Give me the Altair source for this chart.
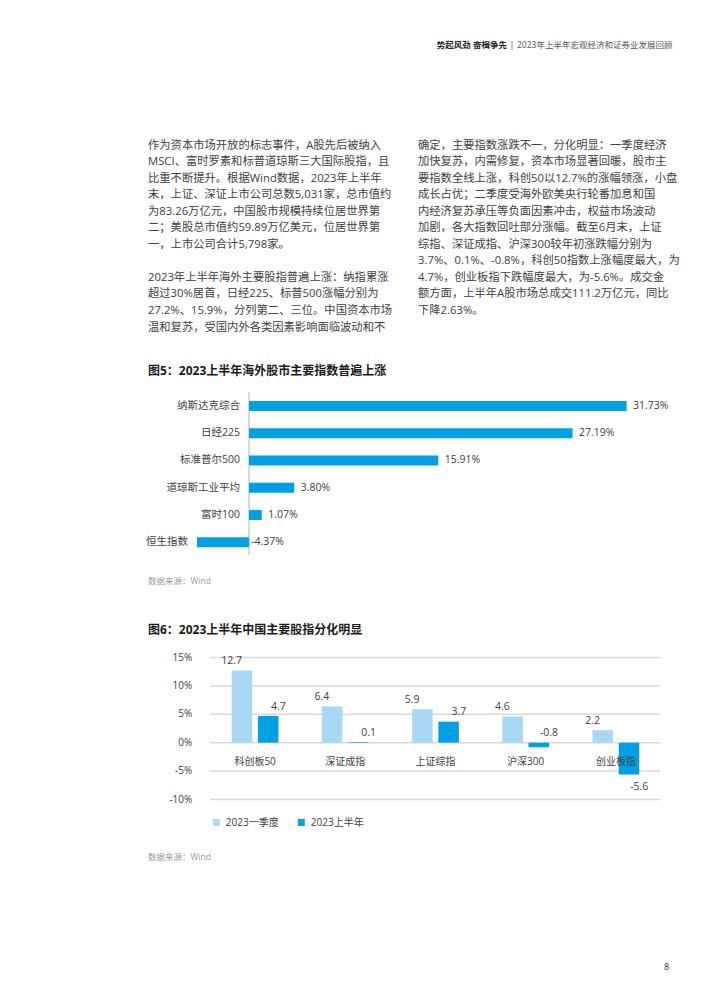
import altair as alt
import pandas as pd

FONT = "Open Sans, Noto Sans CJK SC"

# ---------------- data ----------------
header_bold = "势起风劲 奋楫争先"
header_rest = "2023年上半年宏观经济和证券业发展回顾"

left_lines = [
    "作为资本市场开放的标志事件，A股先后被纳入",
    "MSCI、富时罗素和标普道琼斯三大国际股指，且",
    "比重不断提升。根据Wind数据，2023年上半年",
    "末，上证、深证上市公司总数5,031家，总市值约",
    "为83.26万亿元，中国股市规模持续位居世界第",
    "二；美股总市值约59.89万亿美元，位居世界第",
    "一，上市公司合计5,798家。",
    "",
    "2023年上半年海外主要股指普遍上涨：纳指累涨",
    "超过30%居首，日经225、标普500涨幅分别为",
    "27.2%、15.9%，分列第二、三位。中国资本市场",
    "温和复苏，受国内外各类因素影响面临波动和不",
]
right_lines = [
    "确定，主要指数涨跌不一，分化明显：一季度经济",
    "加快复苏，内需修复，资本市场显著回暖，股市主",
    "要指数全线上涨，科创50以12.7%的涨幅领涨，小盘",
    "成长占优；二季度受海外欧美央行轮番加息和国",
    "内经济复苏承压等负面因素冲击，权益市场波动",
    "加剧，各大指数回吐部分涨幅。截至6月末，上证",
    "综指、深证成指、沪深300较年初涨跌幅分别为",
    "3.7%、0.1%、-0.8%，科创50指数上涨幅度最大，为",
    "4.7%，创业板指下跌幅度最大，为-5.6%。成交金",
    "额方面，上半年A股市场总成交111.2万亿元，同比",
    "下降2.63%。",
]

title5 = "图5：2023上半年海外股市主要指数普遍上涨"
names5 = ["纳斯达克综合", "日经225", "标准普尔500", "道琼斯工业平均", "富时100", "恒生指数"]
values5 = [31.73, 27.19, 15.91, 3.80, 1.07, -4.37]

title6 = "图6：2023上半年中国主要股指分化明显"
cats6 = ["科创板50", "深证成指", "上证综指", "沪深300", "创业板指"]
series6 = ["2023一季度", "2023上半年"]
q1_6 = [12.7, 6.4, 5.9, 4.6, 2.2]
h1_6 = [4.7, 0.1, 3.7, -0.8, -5.6]
ticks6 = [15, 10, 5, 0, -5, -10]

source_text = "数据来源：Wind"
page_no = "8"

# ---------------- tables ----------------
para_rows = []
for i, t in enumerate(left_lines):
    if t:
        para_rows.append({"col": 0, "i": i, "text": t})
for i, t in enumerate(right_lines):
    para_rows.append({"col": 1, "i": i, "text": t})
para_df = pd.DataFrame(para_rows)

df5 = pd.DataFrame({"name": names5, "v": values5})
df6 = pd.DataFrame(
    [{"cat": c, "series": series6[0], "v": v} for c, v in zip(cats6, q1_6)]
    + [{"cat": c, "series": series6[1], "v": v} for c, v in zip(cats6, h1_6)]
)
cat6_df = pd.DataFrame({"cat": cats6})
tick_df = pd.DataFrame({"t": ticks6})

TXT = "#404040"
BLUE = "#00a0e2"
LIGHT = "#a9d8f4"
GRID = "#d9d9d9"


def txt(text, x, y, **kw):
    base = dict(font=FONT, baseline="middle")
    base.update(kw)
    return alt.Chart(pd.DataFrame({"t": [text]})).mark_text(**base).encode(
        x=alt.value(x), y=alt.value(y), text="t:N"
    )


# ---------------- header & paragraphs ----------------
h1 = txt(header_bold, 499, 37, align="right", fontSize=8.5, fontWeight="bold", color="#222222")
h2 = txt("|", 504, 37, align="center", fontSize=9, color="#555555")
h3 = txt(header_rest, 509, 37, align="left", fontSize=8.5, color="#555555")

para = alt.Chart(para_df).mark_text(
    align="left", baseline="middle", font=FONT, fontSize=11.3, color=TXT
).encode(
    x=alt.X("col:Q", scale=alt.Scale(domain=[0, 1], range=[140, 410], nice=False, zero=False), axis=None),
    y=alt.Y("i:Q", scale=alt.Scale(domain=[0, 11], range=[137.5, 319.6], nice=False, zero=False), axis=None),
    text="text:N",
)

t5 = txt(title5, 140, 363, align="left", fontSize=12, fontWeight="bold", color="#1a1a1a")

# ---------------- chart 5 ----------------
xs5 = alt.Scale(domain=[-5, 35], range=[181.5, 657.5], nice=False, zero=False)
ys5 = alt.Scale(domain=names5, range=[384.4, 547.8], paddingInner=0.633, paddingOuter=0.3165)

LAB2 = "replace(format(datum.v, '.2f'), '\u2212', '-') + '%'"
LAB1 = "replace(format(datum.v, '.1f'), '\u2212', '-')"

zero5 = alt.Chart(pd.DataFrame({"z": [0]})).mark_rule(color=GRID, strokeWidth=2).encode(
    x=alt.X("z:Q", scale=xs5, axis=None), y=alt.value(384), y2=alt.value(547)
)
bars5 = alt.Chart(df5).mark_bar(color=BLUE).encode(
    x=alt.X("v:Q", scale=xs5, axis=None),
    x2=alt.datum(0),
    y=alt.Y("name:N", scale=ys5, axis=None),
)
cat5 = alt.Chart(df5).transform_calculate(xl="min(datum.v, 0)").mark_text(
    align="right", baseline="middle", dx=-9, font=FONT, fontSize=10.5, color=TXT
).encode(
    x=alt.X("xl:Q", scale=xs5, axis=None),
    y=alt.Y("name:N", scale=ys5, axis=None),
    text="name:N",
)
lab5p = alt.Chart(df5).transform_filter("datum.v >= 0").transform_calculate(
    lab=LAB2
).mark_text(align="left", baseline="middle", dx=6.5, font=FONT, fontSize=10.5, color=TXT).encode(
    x=alt.X("v:Q", scale=xs5, axis=None),
    y=alt.Y("name:N", scale=ys5, axis=None),
    text="lab:N",
)
lab5n = alt.Chart(df5).transform_filter("datum.v < 0").transform_calculate(
    lab=LAB2, z="0"
).mark_text(align="left", baseline="middle", dx=2, font=FONT, fontSize=10.5, color=TXT).encode(
    x=alt.X("z:Q", scale=xs5, axis=None),
    y=alt.Y("name:N", scale=ys5, axis=None),
    text="lab:N",
)

src1 = txt(source_text, 140, 572.7, align="left", fontSize=8.5, color="#9a9a9a")
t6 = txt(title6, 140, 622, align="left", fontSize=12, fontWeight="bold", color="#1a1a1a")

# ---------------- chart 6 ----------------
xs6 = alt.Scale(domain=cats6, range=[202, 653], paddingInner=0.482, paddingOuter=0.241)
xo6 = alt.Scale(domain=series6, range=[0, 46.7], paddingInner=0.2176, paddingOuter=0)
ys6 = alt.Scale(domain=[-10, 15], range=[791.5, 649.5], nice=False, zero=False)

grid6 = alt.Chart(tick_df).mark_rule(color=GRID, strokeWidth=1.5).encode(
    y=alt.Y("t:Q", scale=ys6, axis=None), x=alt.value(202), x2=alt.value(652)
)
tick6 = alt.Chart(tick_df).transform_calculate(lab="datum.t + '%'").mark_text(
    align="right", baseline="middle", font=FONT, fontSize=10, color=TXT
).encode(y=alt.Y("t:Q", scale=ys6, axis=None), x=alt.value(184.3), text="lab:N")

bars6 = alt.Chart(df6).mark_bar().encode(
    x=alt.X("cat:N", scale=xs6, axis=None),
    xOffset=alt.XOffset("series:N", scale=xo6),
    y=alt.Y("v:Q", scale=ys6, axis=None),
    y2=alt.datum(0),
    color=alt.Color(
        "series:N",
        scale=alt.Scale(domain=series6, range=[LIGHT, BLUE]),
        legend=alt.Legend(
            title=None, orient="none", legendX=203.3, legendY=809.5, direction="horizontal",
            symbolType="square", symbolSize=49, symbolStrokeWidth=0, labelFontSize=10,
            labelFont=FONT, labelColor=TXT, labelOffset=4.5, columnPadding=17, padding=0,
        ),
    ),
)
cat6 = alt.Chart(cat6_df).transform_calculate(z="0").mark_text(
    align="center", baseline="middle", dy=19, font=FONT, fontSize=10, color=TXT
).encode(
    x=alt.X("cat:N", scale=xs6, axis=None),
    y=alt.Y("z:Q", scale=ys6, axis=None),
    text="cat:N",
)
lab6a = alt.Chart(df6).transform_filter("datum.v > -2").transform_calculate(
    yl="max(datum.v, 0)", lab=LAB1
).mark_text(align="center", baseline="middle", dy=-9.5, font=FONT, fontSize=10.5, color=TXT).encode(
    x=alt.X("cat:N", scale=xs6, axis=None),
    xOffset=alt.XOffset("series:N", scale=xo6),
    y=alt.Y("yl:Q", scale=ys6, axis=None),
    text="lab:N",
)
lab6b = alt.Chart(df6).transform_filter("datum.v <= -2").transform_calculate(
    lab=LAB1
).mark_text(align="center", baseline="middle", dy=12, font=FONT, fontSize=10.5, color=TXT).encode(
    x=alt.X("cat:N", scale=xs6, axis=None),
    xOffset=alt.XOffset("series:N", scale=xo6),
    y=alt.Y("v:Q", scale=ys6, axis=None),
    text="lab:N",
)

src2 = txt(source_text, 140, 848.7, align="left", fontSize=8.5, color="#9a9a9a")
pg = txt(page_no, 658.7, 959.3, align="center", fontSize=9, color="#333333")

chart = alt.layer(
    h1, h2, h3, para, t5,
    zero5, bars5, cat5, lab5p, lab5n,
    src1, t6,
    grid6, tick6, bars6, cat6, lab6a, lab6b,
    src2, pg,
).resolve_scale(
    x="independent", y="independent", xOffset="independent"
).properties(
    width=694, height=975, padding=0, autosize="none", background="white"
).configure_view(stroke=None)

chart.save("out.html", embed_options={"renderer": "svg", "actions": False})
